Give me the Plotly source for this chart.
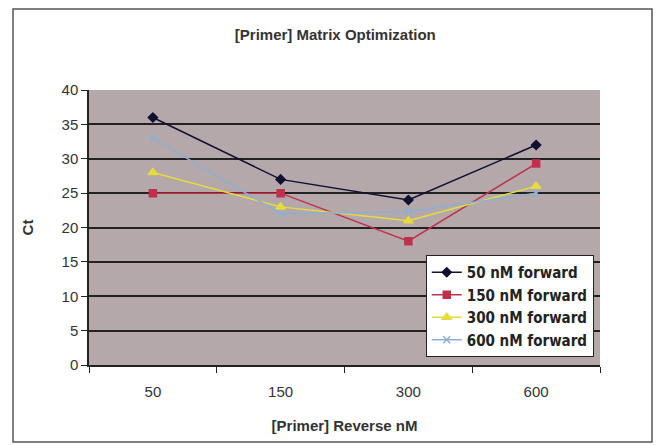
import plotly.graph_objects as go

categories = ["50", "150", "300", "600"]
series_names = ["50 nM forward", "150 nM forward", "300 nM forward", "600 nM forward"]
fwd_50 = [36, 27, 24, 32]
fwd_150 = [25, 25, 18, 29.3]
fwd_300 = [28, 23, 21, 26]
fwd_600 = [33, 22, 22.3, 25]
y_ticks = [0, 5, 10, 15, 20, 25, 30, 35, 40]

values = [fwd_50, fwd_150, fwd_300, fwd_600]
colors = ["#101030", "#c0304a", "#e6dc3c", "#8cb0d4"]
symbols = ["diamond", "square", "triangle-up", "x-thin-open"]
sizes = [7, 7, 8, 7]

fig = go.Figure()
for name, vals, c, s, sz in zip(series_names, values, colors, symbols, sizes):
    fig.add_trace(go.Scatter(
        x=categories, y=vals, name=name, mode="lines+markers",
        line=dict(color=c, width=1.5),
        marker=dict(symbol=s, size=sz, color=c, line=dict(color=c, width=1.5)),
    ))

fig.update_layout(
    width=660, height=445,
    margin=dict(l=89, r=60, t=90, b=80),
    paper_bgcolor="white",
    plot_bgcolor="#b4a8aa",
    font=dict(family="Liberation Sans, Arial, sans-serif", size=16, color="#333333"),
    title=dict(text="<b>[Primer] Matrix Optimization</b>", x=0.508, xanchor="center",
               y=0.922, yanchor="middle", font=dict(size=15, color="#333333")),
    showlegend=True,
    legend=dict(x=0.659, y=0.40, xanchor="left", yanchor="top",
                bgcolor="white", bordercolor="#222222", borderwidth=1,
                font=dict(family="Liberation Sans Narrow, DejaVu Sans Condensed, sans-serif",
                          size=15, color="#222222", weight="bold"),
                itemwidth=30, tracegroupgap=0),
    shapes=[dict(type="rect", xref="paper", yref="paper",
                 x0=-76/511, x1=(652-89)/511, y0=(365-442)/275, y1=(365-9)/275,
                 line=dict(color="#555555", width=1.5), fillcolor="rgba(0,0,0,0)",
                 layer="below")],
)
fig.update_xaxes(
    type="category", range=[-0.5, 3.5], tickson="boundaries", ticks="outside", ticklen=6,
    tickcolor="#222222", showline=True, linecolor="#222222", linewidth=1.5,
    showgrid=False, mirror=False,
    title=dict(text="<b>[Primer] Reverse nM</b>", font=dict(size=15), standoff=22),
    tickfont=dict(size=15), ticklabelstandoff=12,
)
fig.update_yaxes(
    range=[0, 40], tickvals=y_ticks, ticks="outside", ticklen=6,
    tickcolor="#222222", showline=True, linecolor="#222222", linewidth=1.5,
    showgrid=True, gridcolor="#222222", gridwidth=1.5, zeroline=False,
    title=dict(text="<b>Ct</b>", font=dict(size=15), standoff=24),
    tickfont=dict(size=15),
)

fig.write_html("out.html")
